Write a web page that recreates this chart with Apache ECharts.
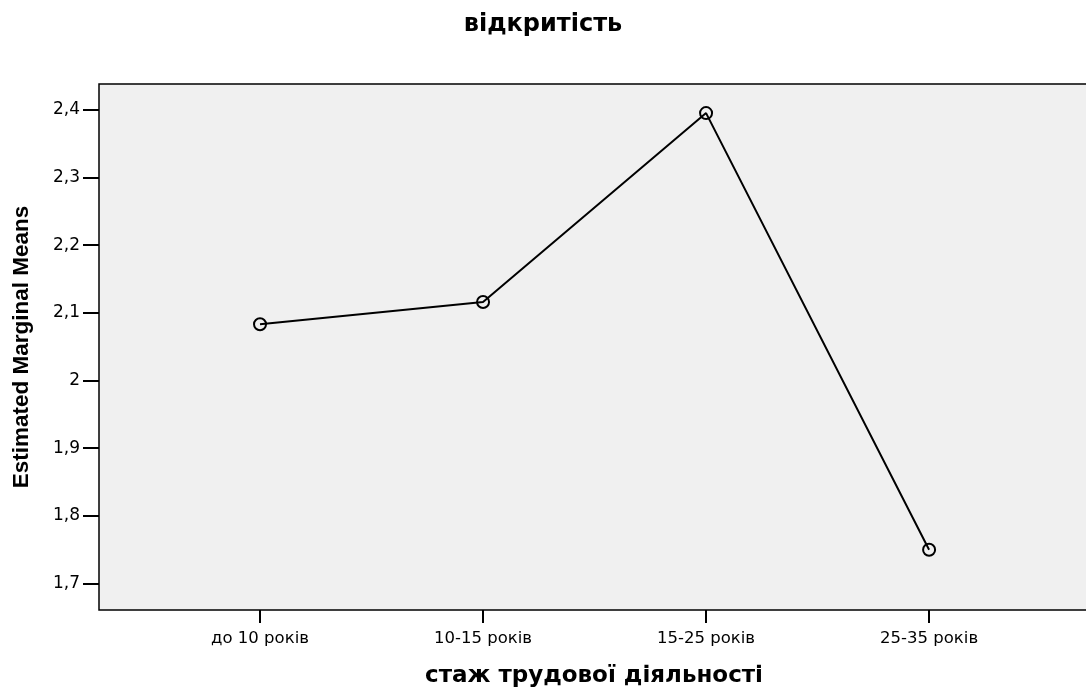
<!DOCTYPE html>
<html>
<head>
<meta charset="utf-8">
<script src="https://cdn.jsdelivr.net/npm/echarts@6/dist/echarts.min.js"></script>
<style>
  html, body { margin: 0; padding: 0; background: #fff; }
  #chart { width: 1086px; height: 687px; }
</style>
</head>
<body>
<div id="chart"></div>
<script>
  // категорії та середні значення
  var categories = ['до 10 років', '10-15 років', '15-25 років', '25-35 років'];
  var means = [2.083, 2.116, 2.395, 1.750];
  var yTicks = [1.7, 1.8, 1.9, 2.0, 2.1, 2.2, 2.3, 2.4];

  var myChart = echarts.init(document.getElementById('chart'));
  var font = 'DejaVu Sans, Arial, sans-serif';

  myChart.setOption({
    animation: false,
    title: {
      text: 'відкритість',
      left: 'center',
      top: 8,
      textStyle: { fontFamily: font, fontSize: 24, fontWeight: 'bold', color: '#000' }
    },
    grid: {
      left: 99,
      top: 84,
      right: -3,
      bottom: 77,
      outerBoundsMode: 'none',
      containLabel: false,
      show: true,
      backgroundColor: '#f0f0f0',
      borderColor: '#000',
      borderWidth: 1.5
    },
    xAxis: {
      type: 'value',
      min: -0.722,
      max: 3.717,
      name: 'стаж трудової діяльності',
      nameLocation: 'middle',
      nameGap: 55,
      nameTextStyle: { fontFamily: font, fontSize: 23, fontWeight: 'bold', color: '#000' },
      axisLine: { show: false, onZero: false },
      splitLine: { show: false },
      axisTick: {
        show: true,
        length: 13,
        customValues: [0, 1, 2, 3],
        lineStyle: { color: '#000', width: 2 }
      },
      axisLabel: {
        customValues: [0, 1, 2, 3],
        margin: 20,
        fontFamily: font,
        fontSize: 16.5,
        color: '#000',
        formatter: function (v) { return categories[Math.round(v)]; }
      }
    },
    yAxis: {
      type: 'value',
      min: 1.661,
      max: 2.438,
      name: 'Estimated Marginal Means',
      nameLocation: 'middle',
      nameGap: 66,
      nameTextStyle: { fontFamily: 'Liberation Sans, Arial, sans-serif', fontSize: 22.5, fontWeight: 'bold', color: '#000' },
      axisLine: { show: false, onZero: false },
      splitLine: { show: false },
      axisTick: {
        show: true,
        length: 16,
        customValues: yTicks,
        lineStyle: { color: '#000', width: 2 }
      },
      axisLabel: {
        customValues: yTicks,
        margin: 19,
        fontFamily: font,
        fontSize: 17,
        color: '#000',
        formatter: function (v) { return String(Math.round(v * 10) / 10).replace('.', ','); }
      }
    },
    series: [{
      type: 'line',
      data: means.map(function (m, i) { return [i, m]; }),
      symbol: 'circle',
      symbolSize: 12,
      itemStyle: { color: 'transparent', borderColor: '#000', borderWidth: 2 },
      lineStyle: { color: '#000', width: 2 }
    }]
  });
</script>
</body>
</html>
